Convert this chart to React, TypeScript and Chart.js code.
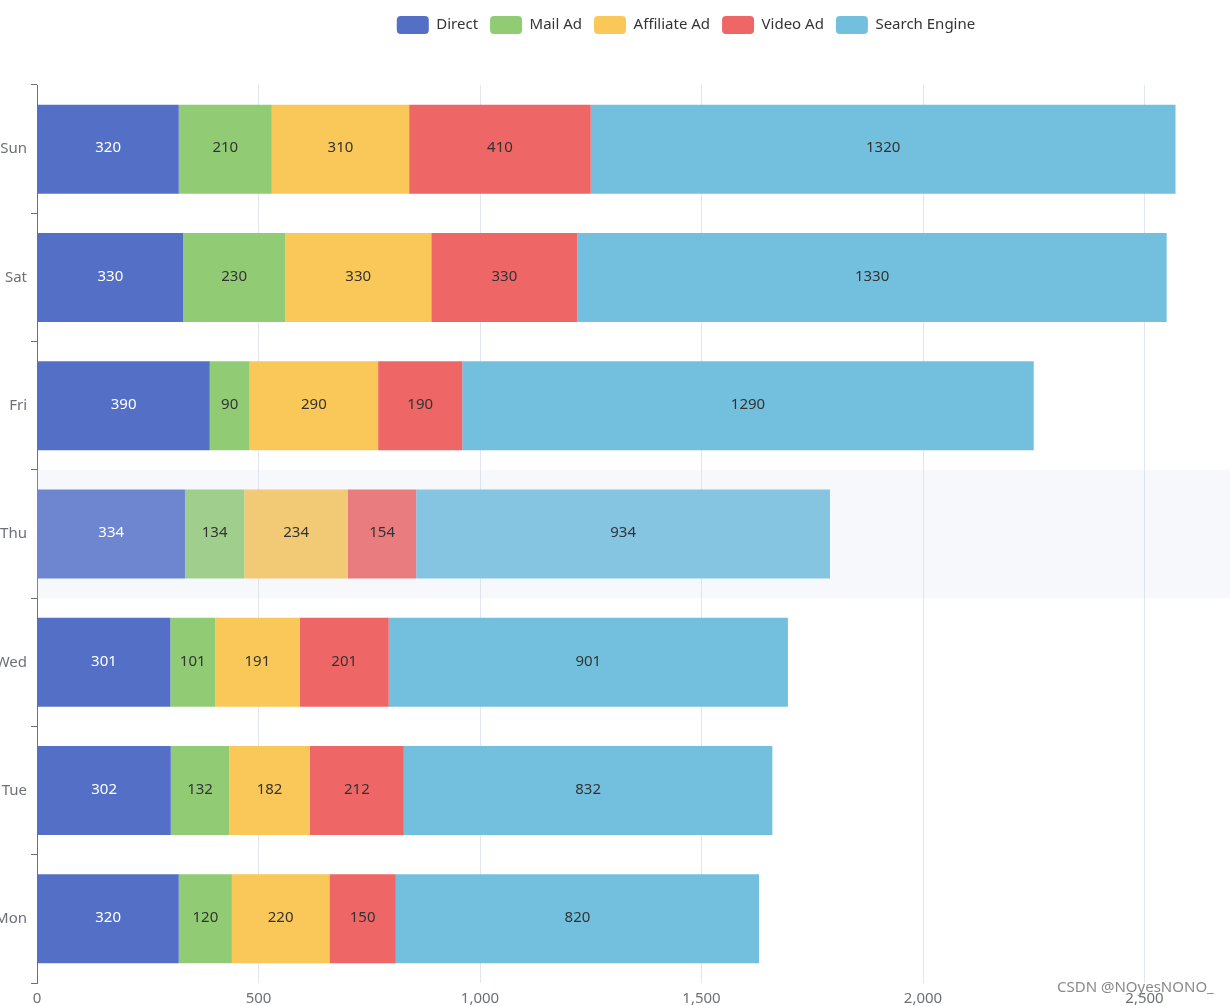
import React, { useEffect, useRef } from 'react';
import { Chart, registerables } from 'chart.js';

Chart.register(...registerables);

const categories = ['Mon', 'Tue', 'Wed', 'Thu', 'Fri', 'Sat', 'Sun'];
const seriesNames = ['Direct', 'Mail Ad', 'Affiliate Ad', 'Video Ad', 'Search Engine'];
const directValues = [320, 302, 301, 334, 390, 330, 320];
const mailAdValues = [120, 132, 101, 134, 90, 230, 210];
const affiliateAdValues = [220, 182, 191, 234, 290, 330, 310];
const videoAdValues = [150, 212, 201, 154, 190, 330, 410];
const searchEngineValues = [820, 832, 901, 934, 1290, 1330, 1320];
const xTickValues = [0, 500, 1000, 1500, 2000, 2500, 3000];
const highlightedCategory = 'Thu';
const watermarkText = 'CSDN @NOyesNONO_';

const baseColors = ['#5470c6', '#91cc75', '#fac858', '#ee6666', '#73c0de'];
const hoverColors = ['#6d86cf', '#a0cf8d', '#f2ca76', '#e87c7e', '#86c5e2'];
const labelColors = ['#ffffff', '#333333', '#333333', '#333333', '#333333'];

const FONT = "'Noto Sans', 'Open Sans', sans-serif";
const OFFSET_X = -30;

export default function App() {
  const canvasRef = useRef<HTMLCanvasElement | null>(null);

  useEffect(() => {
    if (!canvasRef.current) return;
    const allValues = [directValues, mailAdValues, affiliateAdValues, videoAdValues, searchEngineValues];
    const hiIdx = categories.indexOf(highlightedCategory);

    const datasets = seriesNames.map((name, i) => ({
      label: name,
      data: allValues[i],
      backgroundColor: (ctx: any) =>
        ctx.dataIndex === hiIdx ? hoverColors[i] : baseColors[i],
      borderWidth: 0,
      categoryPercentage: 1,
      barPercentage: 0.694,
    }));

    const legendSpacer = {
      id: 'legendSpacer',
      beforeLayout(chart: any) {
        const lg = chart.legend;
        if (lg && !lg.__patched) {
          const orig = lg.fit.bind(lg);
          lg.fit = function () {
            orig();
            this.height += 41;
          };
          lg.__patched = true;
        }
      },
    };

    const bandPlugin = {
      id: 'band',
      beforeDatasetsDraw(chart: any) {
        const { ctx, chartArea, scales } = chart;
        const y = scales.y;
        const step = (chartArea.bottom - chartArea.top) / categories.length;
        const c = y.getPixelForValue(hiIdx);
        ctx.save();
        ctx.fillStyle = 'rgba(210,219,238,0.2)';
        ctx.fillRect(chartArea.left, c - step / 2, chartArea.right - chartArea.left, step);
        ctx.restore();
      },
    };

    const labelPlugin = {
      id: 'barLabels',
      afterDatasetsDraw(chart: any) {
        const { ctx } = chart;
        ctx.save();
        ctx.font = `15px ${FONT}`;
        ctx.textAlign = 'center';
        ctx.textBaseline = 'middle';
        chart.data.datasets.forEach((ds: any, i: number) => {
          const meta = chart.getDatasetMeta(i);
          meta.data.forEach((el: any, j: number) => {
            const p = el.getCenterPoint();
            ctx.fillStyle = labelColors[i];
            ctx.fillText(String(ds.data[j]), p.x, p.y - 1);
          });
        });
        ctx.restore();
      },
    };

    const watermarkPlugin = {
      id: 'watermark',
      afterDraw(chart: any) {
        const { ctx } = chart;
        ctx.save();
        ctx.font = `15px ${FONT}`;
        ctx.fillStyle = '#8a8a8a';
        ctx.textAlign = 'left';
        ctx.textBaseline = 'middle';
        ctx.fillText(watermarkText, 1057 - OFFSET_X, 988);
        ctx.restore();
      },
    };

    const chart = new Chart(canvasRef.current, {
      type: 'bar',
      data: { labels: categories, datasets },
      plugins: [legendSpacer, bandPlugin, labelPlugin, watermarkPlugin],
      options: {
        indexAxis: 'y',
        animation: false,
        responsive: true,
        maintainAspectRatio: false,
        layout: { padding: { top: 4, left: 36, right: 36, bottom: 0 } },
        plugins: {
          tooltip: { enabled: false },
          legend: {
            position: 'top',
            labels: {
              boxWidth: 32,
              boxHeight: 18,
              padding: 12,
              color: '#333',
              font: { size: 15, family: FONT },
              useBorderRadius: true,
              borderRadius: 4,
            },
          },
        },
        scales: {
          x: {
            stacked: true,
            min: 0,
            max: 3000,
            afterBuildTicks: (scale: any) => {
              scale.ticks = xTickValues.map((v) => ({ value: v }));
            },
            afterFit: (scale: any) => {
              scale.height = 23;
            },
            grid: { color: '#E0E6F1', drawTicks: false },
            border: { display: false },
            ticks: {
              color: '#6e7079',
              font: { size: 15, family: FONT },
              padding: 7,
              maxRotation: 0,
              callback: (v: any) => Number(v).toLocaleString('en-US'),
            },
          },
          y: {
            stacked: true,
            reverse: true,
            afterFit: (scale: any) => {
              scale.width = 31;
              scale._computeLabelArea = () => undefined;
            },
            grid: {
              drawOnChartArea: false,
              drawTicks: true,
              tickLength: 6,
              offset: true,
              color: '#6e7079',
            },
            border: { display: true, color: '#6e7079', width: 1 },
            ticks: {
              color: '#6e7079',
              font: { size: 15, family: FONT },
              padding: 4,
            },
          },
        },
      },
    } as any);

    return () => chart.destroy();
  }, []);

  return (
    <div
      style={{
        position: 'fixed',
        left: 0,
        top: 0,
        width: 1230,
        height: 1006,
        overflow: 'hidden',
        background: '#fff',
      }}
    >
      <div style={{ position: 'absolute', left: OFFSET_X, top: 0, width: 1432, height: 1006 }}>
        <canvas ref={canvasRef} />
      </div>
    </div>
  );
}
